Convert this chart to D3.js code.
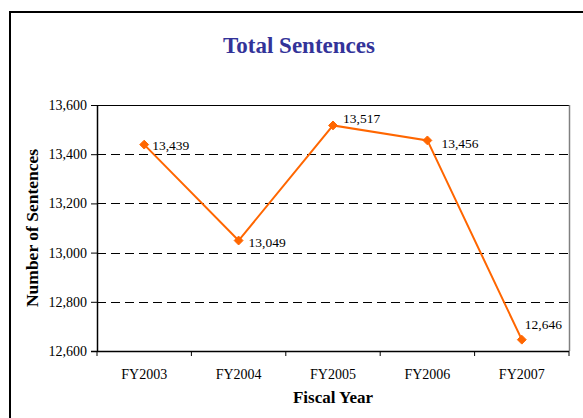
<!DOCTYPE html>
<html>
<head>
<meta charset="utf-8">
<script src="https://cdn.jsdelivr.net/npm/d3@7"></script>
<style>
  body { margin: 0; background: #fff; }
  svg { display: block; font-family: "Liberation Serif", "Times New Roman", serif; }
</style>
</head>
<body>
<svg id="chart" width="583" height="418"></svg>
<script>
const years = ['FY2003', 'FY2004', 'FY2005', 'FY2006', 'FY2007'];
const sentences = [13439, 13049, 13517, 13456, 12646];
const yTicks = [12600, 12800, 13000, 13200, 13400, 13600];

const svg = d3.select('#chart');
const margin = {left: 97, right: 14, top: 105, bottom: 67};
const width = 583, height = 418;
const fontSerif = '"Liberation Serif", "Times New Roman", serif';

// outer frame (runs off the right and bottom edges)
svg.append('path')
  .attr('d', `M10,${height + 5}V12H${width + 5}`)
  .attr('fill', 'none')
  .attr('stroke', '#000')
  .attr('stroke-width', 2);

const x = d3.scaleBand()
  .domain(years)
  .range([margin.left, width - margin.right]);

const y = d3.scaleLinear()
  .domain([12600, 13600])
  .range([height - margin.bottom, margin.top]);

// plot frame
svg.append('line')
  .attr('x1', margin.left).attr('x2', width - margin.right)
  .attr('y1', margin.top + 0.5).attr('y2', margin.top + 0.5)
  .attr('stroke', '#000');
svg.append('line')
  .attr('x1', width - margin.right + 0.5).attr('x2', width - margin.right + 0.5)
  .attr('y1', margin.top).attr('y2', height - margin.bottom)
  .attr('stroke', '#808080').attr('stroke-width', 1.5);

// dashed gridlines
svg.append('g')
  .selectAll('line')
  .data(yTicks.slice(1, -1))
  .join('line')
  .attr('x1', margin.left).attr('x2', width - margin.right)
  .attr('y1', d => Math.round(y(d)) + 0.5).attr('y2', d => Math.round(y(d)) + 0.5)
  .attr('stroke', '#000')
  .attr('stroke-dasharray', '9,5');

const yAxis = svg.append('g')
  .attr('transform', `translate(${margin.left}, 0)`)
  .call(d3.axisLeft(y).tickValues(yTicks).tickSize(6).tickPadding(4)
    .tickFormat(d3.format(',')));

const xAxis = svg.append('g')
  .attr('transform', `translate(0, ${height - margin.bottom})`)
  .call(d3.axisBottom(x).tickSize(0));

// ticks at band boundaries
xAxis.selectAll('.edge')
  .data(years.map(d => x(d)).concat([width - margin.right]))
  .join('line')
  .attr('class', 'edge')
  .attr('x1', d => d).attr('x2', d => d)
  .attr('y1', 0).attr('y2', 5)
  .attr('stroke', '#000');

[xAxis, yAxis].forEach(a => {
  a.attr('font-family', fontSerif);
  a.select('.domain').attr('stroke', '#000').attr('stroke-width', 1.5);
  a.selectAll('text').attr('font-size', 14).attr('fill', '#000');
});
xAxis.selectAll('.tick text').attr('y', 28).attr('dy', null);
yAxis.select('.domain').attr('d', `M0.5,${margin.top}V${height - margin.bottom}`);
xAxis.select('.domain').attr('d', `M${margin.left - 6},0.5H${width - margin.right}`);

const cx = d => x(d) + x.bandwidth() / 2;

svg.append('path')
  .datum(sentences)
  .attr('fill', 'none')
  .attr('stroke', '#ff6600')
  .attr('stroke-width', 2)
  .attr('d', d3.line().x((d, i) => cx(years[i])).y(d => y(d)));

svg.append('g')
  .selectAll('path')
  .data(sentences)
  .join('path')
  .attr('transform', (d, i) => `translate(${cx(years[i])}, ${y(d)})`)
  .attr('d', d3.symbol(d3.symbolDiamond2, 50))
  .attr('fill', '#ff6600')
  .attr('stroke', '#ff6600')
  .attr('stroke-width', 1);

// label placement relative to each point
const labelDx = i => [8, 10, 10, 14, 3][i];
const labelDy = i => [5.5, 6, -2.5, 8, -11][i];

svg.append('g')
  .selectAll('text')
  .data(sentences)
  .join('text')
  .attr('x', (d, i) => cx(years[i]) + labelDx(i))
  .attr('y', (d, i) => y(d) + labelDy(i))
  .attr('font-size', 13.5)
  .attr('fill', '#000')
  .text(d => d3.format(',')(d));

svg.append('text')
  .attr('x', 299).attr('y', 53)
  .attr('text-anchor', 'middle')
  .attr('font-size', 23).attr('font-weight', 'bold')
  .attr('fill', '#333399')
  .text('Total Sentences');

svg.append('text')
  .attr('transform', `translate(38, 228) rotate(-90)`)
  .attr('text-anchor', 'middle')
  .attr('font-size', 17.5).attr('font-weight', 'bold')
  .text('Number of Sentences');

svg.append('text')
  .attr('x', 333).attr('y', 403)
  .attr('text-anchor', 'middle')
  .attr('font-size', 17).attr('font-weight', 'bold')
  .text('Fiscal Year');
</script>
</body>
</html>
